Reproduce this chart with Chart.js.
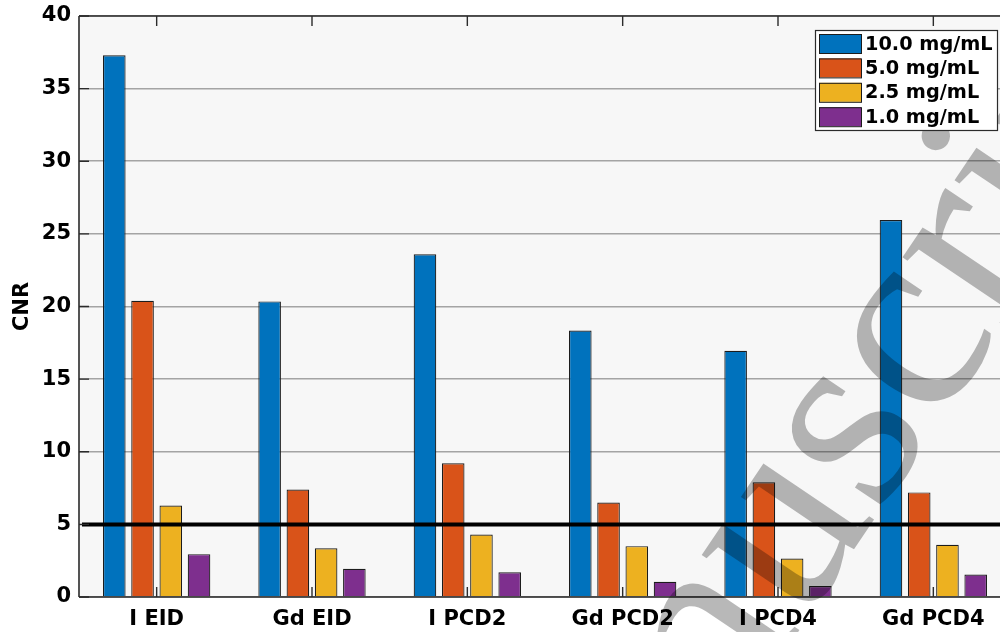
<!DOCTYPE html>
<html>
<head>
<meta charset="utf-8">
<script src="https://cdn.jsdelivr.net/npm/chart.js@4/dist/chart.umd.min.js"></script>
<style>
  html, body { margin: 0; padding: 0; background: #ffffff; overflow: hidden; width: 1000px; height: 632px; }
  #wrap { width: 1000px; height: 632px; overflow: hidden; position: relative; }
  canvas { display: block; }
</style>
</head>
<body>
<div id="wrap"><canvas id="cnrChart" width="1020" height="632"></canvas></div>
<script>
// Contrast-to-noise ratio per acquisition / material and concentration
const categories = ['I EID', 'Gd EID', 'I PCD2', 'Gd PCD2', 'I PCD4', 'Gd PCD4'];
const seriesLabels = ['10.0 mg/mL', '5.0 mg/mL', '2.5 mg/mL', '1.0 mg/mL'];
const cnr10 = [37.3, 20.35, 23.6, 18.35, 16.95, 25.95];
const cnr5  = [20.4, 7.4, 9.2, 6.5, 7.9, 7.2];
const cnr25 = [6.3, 3.35, 4.3, 3.5, 2.65, 3.6];
const cnr1  = [2.95, 1.95, 1.7, 1.05, 0.75, 1.55];
const yTicks = [0, 5, 10, 15, 20, 25, 30, 35, 40];
const detectionLimit = 5;
const watermarkText = 'Manuscript';

const seriesColors = ['#0072BD', '#D95319', '#EDB120', '#7E2F8E'];
const seriesValues = [cnr10, cnr5, cnr25, cnr1];
const axisColor = '#2b2b2b';
const boldFont = (size) => ({ family: '"DejaVu Sans", sans-serif', size: size, weight: 'bold' });

const datasets = seriesValues.map((vals, i) => ({
  label: seriesLabels[i],
  data: vals,
  backgroundColor: seriesColors[i],
  borderColor: '#1c1c1c',
  borderWidth: 1.2,
  categoryPercentage: 4 / 5.5,
  barPercentage: 0.8
}));

// light grey plot background
const plotBackground = {
  id: 'plotBackground',
  beforeDraw(chart) {
    const { ctx, chartArea: a } = chart;
    ctx.save();
    ctx.fillStyle = '#f7f7f7';
    ctx.fillRect(a.left, a.top, a.right - a.left, a.bottom - a.top);
    ctx.restore();
  }
};

// threshold line, axis box, inward tick marks, watermark
const overlays = {
  id: 'overlays',
  afterDatasetsDraw(chart) {
    const { ctx, chartArea: a, scales: { x, y } } = chart;
    ctx.save();

    // CNR = 5 reference line
    const yl = y.getPixelForValue(detectionLimit);
    ctx.strokeStyle = '#000000';
    ctx.lineWidth = 4;
    ctx.beginPath();
    ctx.moveTo(a.left + 3, yl);
    ctx.lineTo(a.right, yl);
    ctx.stroke();

    // axis lines
    ctx.strokeStyle = axisColor;
    ctx.lineWidth = 1.6;
    ctx.beginPath();
    ctx.moveTo(a.left, a.top); ctx.lineTo(a.left, a.bottom);
    ctx.moveTo(a.left, a.bottom); ctx.lineTo(a.right, a.bottom);
    ctx.moveTo(a.left, a.top); ctx.lineTo(a.right, a.top);
    ctx.moveTo(a.right, a.top); ctx.lineTo(a.right, a.bottom);
    ctx.stroke();

    // inward ticks
    ctx.lineWidth = 1.4;
    ctx.beginPath();
    y.ticks.forEach((t, i) => {
      const py = y.getPixelForTick(i);
      ctx.moveTo(a.left, py); ctx.lineTo(a.left + 10, py);
      ctx.moveTo(a.right, py); ctx.lineTo(a.right - 10, py);
    });
    x.ticks.forEach((t, i) => {
      const px = x.getPixelForTick(i);
      ctx.moveTo(px, a.bottom); ctx.lineTo(px, a.bottom - 10);
      ctx.moveTo(px, a.top); ctx.lineTo(px, a.top + 10);
    });
    ctx.stroke();

    // diagonal watermark
    ctx.translate(527, 1034);
    ctx.rotate(-56 * Math.PI / 180);
    ctx.font = '268px "Liberation Serif", "DejaVu Serif", serif';
    ctx.fillStyle = 'rgba(0,0,0,0.28)';
    ctx.textBaseline = 'alphabetic';
    ctx.textAlign = 'left';
    ctx.fillText(watermarkText, 0, 0);
    ctx.restore();
  },
  afterDraw(chart) {
    // boxed legend, upper right
    const { ctx } = chart;
    const bx = 815, by = 30, bw = 182, bh = 100, pitch = 24.4;
    ctx.save();
    ctx.fillStyle = '#ffffff';
    ctx.fillRect(bx, by, bw, bh);
    ctx.strokeStyle = axisColor;
    ctx.lineWidth = 1.2;
    ctx.strokeRect(bx + 0.5, by + 0.5, bw, bh);
    ctx.font = 'bold 19.3px "DejaVu Sans", sans-serif';
    ctx.textBaseline = 'middle';
    ctx.textAlign = 'left';
    chart.data.datasets.forEach((ds, i) => {
      const ry = by + 4 + i * pitch;
      ctx.fillStyle = ds.backgroundColor;
      ctx.fillRect(bx + 4, ry, 42, 19);
      ctx.strokeStyle = '#1c1c1c';
      ctx.lineWidth = 1;
      ctx.strokeRect(bx + 4.5, ry + 0.5, 42, 19);
      ctx.fillStyle = '#000000';
      ctx.fillText(ds.label, bx + 50, ry + 10.5);
    });
    ctx.restore();
  }
};

new Chart(document.getElementById('cnrChart'), {
  type: 'bar',
  data: { labels: categories, datasets: datasets },
  plugins: [plotBackground, overlays],
  options: {
    responsive: false,
    animation: false,
    devicePixelRatio: 1,
    layout: { padding: { top: 16, right: 9, left: 0, bottom: 0 } },
    plugins: {
      legend: { display: false },
      tooltip: { enabled: false }
    },
    scales: {
      x: {
        grid: { display: false, drawTicks: false },
        border: { display: false },
        ticks: {
          color: '#000000',
          font: boldFont(21),
          padding: 10,
          maxRotation: 0,
          autoSkip: false
        },
        afterFit(scale) {
          scale.height = 35;
          scale.paddingLeft = 0;
          scale.paddingRight = 0;
        }
      },
      y: {
        min: 0,
        max: 40,
        afterBuildTicks(scale) { scale.ticks = yTicks.map(v => ({ value: v })); },
        grid: { color: '#a4a4a4', lineWidth: 1.6, drawTicks: false },
        border: { display: false },
        ticks: {
          color: '#000000',
          font: boldFont(21),
          padding: 8
        },
        title: {
          display: true,
          text: 'CNR',
          color: '#000000',
          font: boldFont(21),
          padding: { top: 10, bottom: 0 }
        },
        afterFit(scale) {
          scale.width = 79;
          scale.paddingTop = 0;
          scale.paddingBottom = 0;
        }
      }
    }
  }
});
</script>
</body>
</html>
